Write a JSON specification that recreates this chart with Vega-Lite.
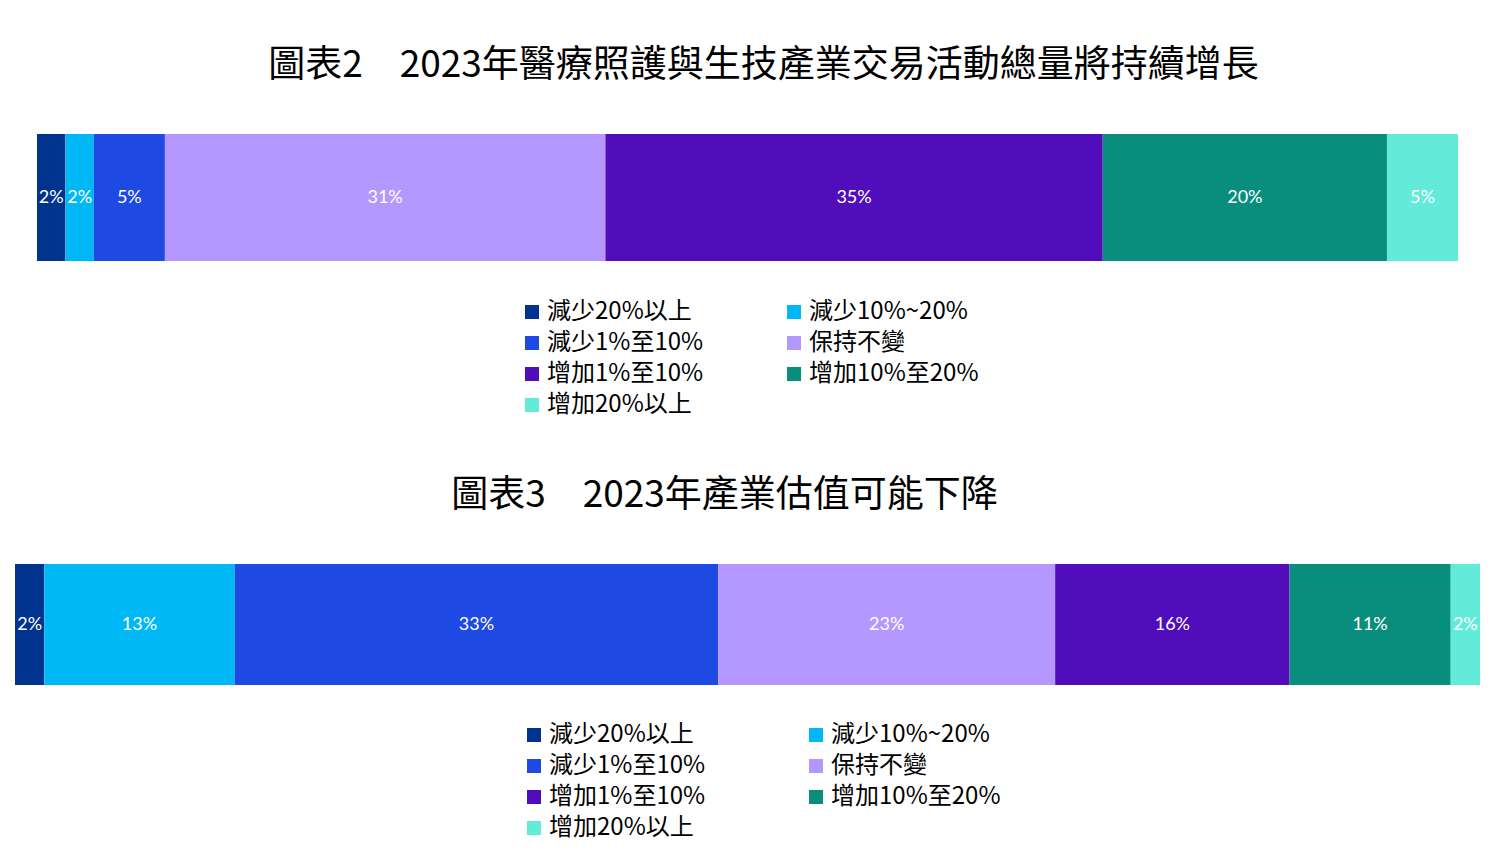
{
  "$schema": "https://vega.github.io/schema/vega-lite/v6.json",
  "background": "white",
  "padding": {"left": 15, "top": 47, "right": 20, "bottom": 10},
  "center": true,
  "spacing": 60,
  "config": {
    "view": {"stroke": null},
    "font": "Noto Sans CJK TC",
    "title": {"font": "Noto Sans CJK TC", "fontSize": 37, "fontWeight": "normal", "color": "#000000", "anchor": "middle", "offset": 49},
    "legend": {
      "orient": "none",
      "direction": "horizontal",
      "columns": 2,
      "symbolType": "square",
      "symbolSize": 196,
      "symbolStrokeWidth": 0,
      "labelFont": "Noto Sans CJK TC",
      "labelFontSize": 24,
      "labelColor": "#000000",
      "labelOffset": 3,
      "labelLimit": 400,
      "rowPadding": 7,
      "title": null
    }
  },
  "resolve": {"scale": {"color": "independent", "x": "independent", "y": "independent"}},
  "vconcat": [
    {
      "title": {"text": "圖表2　2023年醫療照護與生技產業交易活動總量將持續增長", "dx": 16},
      "width": 1421,
      "height": 127,
      "data": {
        "values": [
          {"chart": "圖表2", "k": 1, "cat": "減少20%以上", "value": 0.02},
          {"chart": "圖表2", "k": 2, "cat": "減少10%~20%", "value": 0.02},
          {"chart": "圖表2", "k": 3, "cat": "減少1%至10%", "value": 0.05},
          {"chart": "圖表2", "k": 4, "cat": "保持不變", "value": 0.31},
          {"chart": "圖表2", "k": 5, "cat": "增加1%至10%", "value": 0.35},
          {"chart": "圖表2", "k": 6, "cat": "增加10%至20%", "value": 0.20},
          {"chart": "圖表2", "k": 7, "cat": "增加20%以上", "value": 0.05}
        ]
      },
      "encoding": {
        "y": {"field": "chart", "type": "nominal", "axis": null, "scale": {"paddingInner": 0, "paddingOuter": 0}},
        "order": {"field": "k", "type": "quantitative"}
      },
      "layer": [
        {
          "mark": {"type": "bar"},
          "encoding": {
            "x": {"field": "value", "type": "quantitative", "stack": "zero", "axis": null, "scale": {"domain": [0, 1], "nice": false}},
            "color": {
              "field": "cat",
              "type": "nominal",
              "scale": {
                "domain": ["減少20%以上", "減少10%~20%", "減少1%至10%", "保持不變", "增加1%至10%", "增加10%至20%", "增加20%以上"],
                "range": ["#00338D", "#00B8F5", "#1E49E2", "#B497FF", "#510DBC", "#098E7E", "#63EBDA"]
              },
              "legend": {"legendX": 483, "legendY": 166, "columnPadding": 78}
            }
          }
        },
        {
          "mark": {"type": "text", "color": "white", "font": "Lato", "fontSize": 18},
          "encoding": {
            "x": {"field": "value", "type": "quantitative", "stack": "zero", "bandPosition": 0.5},
            "detail": {"field": "cat"},
            "text": {"field": "value", "type": "quantitative", "format": ".0%"}
          }
        }
      ]
    },
    {
      "title": {"text": "圖表3　2023年產業估值可能下降", "dx": -23},
      "width": 1465,
      "height": 121,
      "data": {
        "values": [
          {"chart": "圖表3", "k": 1, "cat": "減少20%以上", "value": 0.02},
          {"chart": "圖表3", "k": 2, "cat": "減少10%~20%", "value": 0.13},
          {"chart": "圖表3", "k": 3, "cat": "減少1%至10%", "value": 0.33},
          {"chart": "圖表3", "k": 4, "cat": "保持不變", "value": 0.23},
          {"chart": "圖表3", "k": 5, "cat": "增加1%至10%", "value": 0.16},
          {"chart": "圖表3", "k": 6, "cat": "增加10%至20%", "value": 0.11},
          {"chart": "圖表3", "k": 7, "cat": "增加20%以上", "value": 0.02}
        ]
      },
      "encoding": {
        "y": {"field": "chart", "type": "nominal", "axis": null, "scale": {"paddingInner": 0, "paddingOuter": 0}},
        "order": {"field": "k", "type": "quantitative"}
      },
      "layer": [
        {
          "mark": {"type": "bar"},
          "encoding": {
            "x": {"field": "value", "type": "quantitative", "stack": "zero", "axis": null, "scale": {"domain": [0, 1], "nice": false}},
            "color": {
              "field": "cat",
              "type": "nominal",
              "scale": {
                "domain": ["減少20%以上", "減少10%~20%", "減少1%至10%", "保持不變", "增加1%至10%", "增加10%至20%", "增加20%以上"],
                "range": ["#00338D", "#00B8F5", "#1E49E2", "#B497FF", "#510DBC", "#098E7E", "#63EBDA"]
              },
              "legend": {"legendX": 507, "legendY": 159, "columnPadding": 98}
            }
          }
        },
        {
          "mark": {"type": "text", "color": "white", "font": "Lato", "fontSize": 18},
          "encoding": {
            "x": {"field": "value", "type": "quantitative", "stack": "zero", "bandPosition": 0.5},
            "detail": {"field": "cat"},
            "text": {"field": "value", "type": "quantitative", "format": ".0%"}
          }
        }
      ]
    }
  ]
}
